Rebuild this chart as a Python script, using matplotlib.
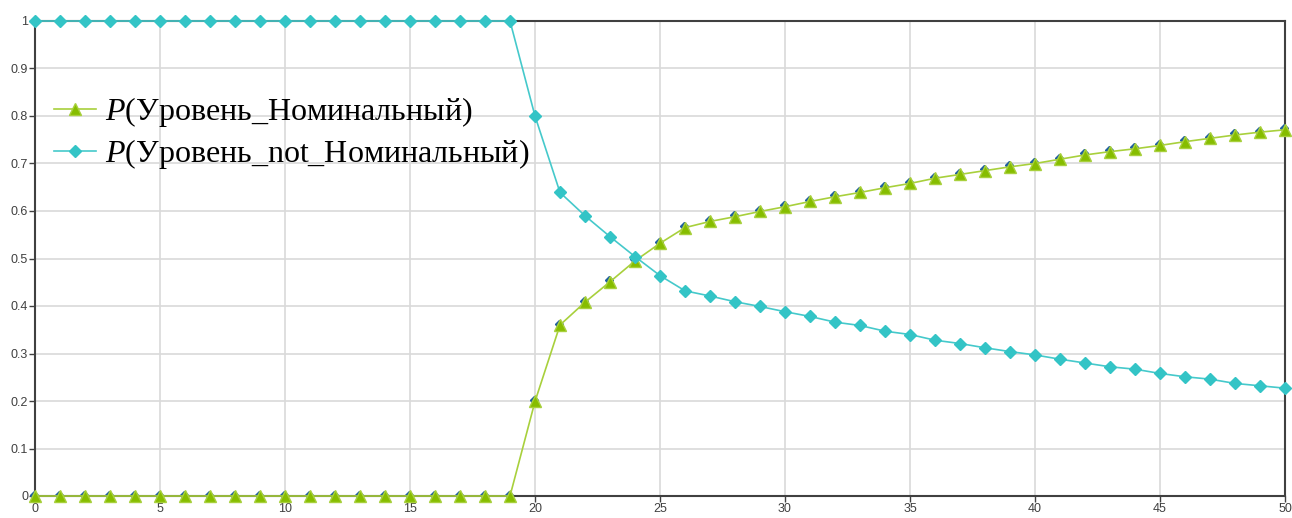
import numpy as np
import matplotlib.pyplot as plt
from matplotlib.transforms import offset_copy

plt.rcParams['mathtext.fontset'] = 'custom'
plt.rcParams['mathtext.rm'] = 'Liberation Serif'
plt.rcParams['mathtext.it'] = 'Liberation Serif:italic'

# readings
x = np.arange(0, 51)
p_nom = [0.0] * 20 + [0.199, 0.360, 0.408, 0.451, 0.495, 0.532, 0.565, 0.578, 0.588, 0.599,
                      0.609, 0.620, 0.630, 0.639, 0.649, 0.658, 0.669, 0.677, 0.685, 0.693,
                      0.700, 0.709, 0.718, 0.725, 0.731, 0.738, 0.746, 0.753, 0.760, 0.766, 0.771]
p_not = [1.0] * 20 + [0.800, 0.639, 0.590, 0.546, 0.504, 0.464, 0.432, 0.421, 0.409, 0.399,
                      0.388, 0.378, 0.366, 0.359, 0.347, 0.340, 0.328, 0.321, 0.312, 0.304,
                      0.297, 0.288, 0.280, 0.272, 0.267, 0.258, 0.251, 0.246, 0.237, 0.232, 0.227]
labels = ['$P$(Уровень_Номинальный)', '$P$(Уровень_not_Номинальный)']

fig = plt.figure(figsize=(12.92, 5.18), dpi=100)
ax = fig.add_axes([35 / 1292, 1 - 496 / 518, 1250 / 1292, 475 / 518])

# small dark-blue shadow behind the triangles
shadow = offset_copy(ax.transData, fig=fig, x=-1.5, y=1.5, units='dots')
ax.plot(x, p_nom, 'D', color='#1f5f9f', markersize=4, transform=shadow, zorder=3, clip_on=False)
ax.plot(x, p_nom, '-^', color='#a8d03c', lw=1.2, markersize=9, clip_on=False,
        markerfacecolor='#86bd00', markeredgecolor='#a8d03c', label=labels[0], zorder=4)
ax.plot(x, p_not, '-D', color='#45c9cb', lw=1.2, markersize=6.5, clip_on=False,
        markerfacecolor='#33c4c6', markeredgecolor='#33c4c6', label=labels[1], zorder=5)

ax.set_xlim(0, 50)
ax.set_ylim(0, 1)
ax.set_xticks(np.arange(0, 51, 5))
ax.set_yticks(np.arange(0, 1.01, 0.1))
ax.set_yticklabels(['0'] + ['%.1f' % v for v in np.arange(0.1, 0.95, 0.1)] + ['1'])
ax.grid(True, color='#d9d9d9', lw=1.2)
ax.set_axisbelow(True)
for s in ax.spines.values():
    s.set_color('#404040')
    s.set_linewidth(1.5)
ax.tick_params(colors='#404040', labelsize=9, length=4, width=1, pad=1)
for t in ax.get_xticklabels() + ax.get_yticklabels():
    t.set_family('Liberation Sans')

ax.legend(loc='upper left', bbox_to_anchor=(0.0, 0.885), frameon=False,
          prop={'family': 'Liberation Serif', 'size': 23}, handlelength=1.3,
          handletextpad=0.3, labelspacing=0.25, borderaxespad=0.2)

fig.savefig('out.png', dpi=100)
